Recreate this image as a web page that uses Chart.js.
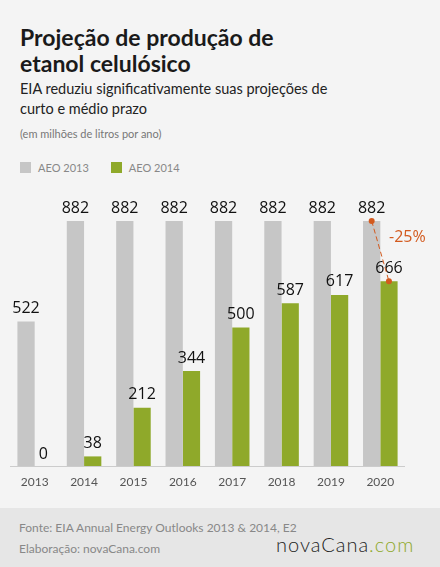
<!DOCTYPE html>
<html><head><meta charset="utf-8">
<script src="https://cdn.jsdelivr.net/npm/chart.js@4"></script>
<style>
body{margin:0;width:440px;height:567px;background:#f4f4f4;font-family:"Open Sans",Lato,sans-serif;position:relative;overflow:hidden}
#t{position:absolute;left:20px;top:24px;font-size:23px;font-weight:bold;line-height:26px;color:#1a1a1a;font-family:Lato,sans-serif}
#s{position:absolute;left:20px;top:79px;font-size:14.5px;line-height:20px;color:#222;font-family:Lato,sans-serif}
#u{position:absolute;left:20px;top:127px;font-size:11px;color:#777;font-family:Lato,sans-serif}
#lg{position:absolute;left:20px;top:161px;font-size:11px;color:#888;font-family:Lato,sans-serif}
#lg span.b{display:inline-block;width:11px;height:11px;vertical-align:-1px;margin-right:7px}
#f{position:absolute;left:0;top:508px;width:440px;height:59px;background:#e6e6e6;font-family:Lato,sans-serif;color:#888;font-size:12px}
canvas{position:absolute;left:0;top:0}
</style></head><body>
<div id="t">Projeção de produção de<br>etanol celulósico</div>
<div id="s">EIA reduziu significativamente suas projeções de<br>curto e médio prazo</div>
<div id="u">(em milhões de litros por ano)</div>
<div id="lg"><span class="b" style="background:#c6c6c6"></span>AEO 2013<span style="display:inline-block;width:22px"></span><span class="b" style="background:#8fa92a"></span>AEO 2014</div>
<div id="f"><div style="position:absolute;left:19px;top:12px">Fonte: EIA Annual Energy Outlooks 2013 &amp; 2014, E2</div>
<div style="position:absolute;left:19px;top:33px">Elaboração: novaCana.com</div>
<div style="position:absolute;left:276px;top:24px;font-size:20px;color:#222;letter-spacing:1px;font-weight:300">novaCana<span style="color:#8fa92a">.com</span></div></div>
<div style="position:absolute;left:0;top:0;width:440px;height:510px"><canvas id="c"></canvas></div>
<script>
const categories=["2013","2014","2015","2016","2017","2018","2019","2020"];
const aeo2013=[522,882,882,882,882,882,882,882];
const aeo2014=[0,38,212,344,500,587,617,666];
const changeLabel="-25%";
const plug={id:'lab',afterDatasetsDraw(ch){
 const ctx=ch.ctx,x=ch.scales.x;
 ctx.save();ctx.font='16px "Open Sans",Lato,sans-serif';ctx.fillStyle='#111';ctx.textAlign='center';ctx.textBaseline='bottom';
 ch.data.datasets.forEach((d,i)=>{ch.getDatasetMeta(i).data.forEach((b,j)=>{ctx.fillText(String(d.data[j]),b.x,b.y-5);});});
 ctx.font='12px Lato,sans-serif';ctx.fillStyle='#555';ctx.textBaseline='top';
 categories.forEach((c,j)=>ctx.fillText(c,x.getPixelForValue(j),476));
 ctx.strokeStyle='#ccc';ctx.lineWidth=1;ctx.beginPath();ctx.moveTo(ch.chartArea.left,466.5);ctx.lineTo(ch.chartArea.right,466.5);ctx.stroke();
 const g=ch.getDatasetMeta(0).data[7],v=ch.getDatasetMeta(1).data[7];
 const p1={x:g.x,y:g.y},p2={x:v.x,y:v.y};
 ctx.strokeStyle='#d35a1e';ctx.fillStyle='#d35a1e';ctx.setLineDash([5,3]);ctx.lineWidth=1;
 ctx.beginPath();ctx.moveTo(p1.x,p1.y);ctx.lineTo(p2.x,p2.y);ctx.stroke();ctx.setLineDash([]);
 [p1,p2].forEach(p=>{ctx.beginPath();ctx.arc(p.x,p.y,3,0,7);ctx.fill();});
 ctx.font='16px "Open Sans",Lato,sans-serif';ctx.textAlign='left';ctx.textBaseline='middle';
 ctx.fillText(changeLabel,389,237);
 ctx.restore();}};
new Chart(document.getElementById('c'),{type:'bar',
 data:{labels:categories,datasets:[
  {label:'AEO 2013',data:aeo2013,backgroundColor:'#c6c6c6'},
  {label:'AEO 2014',data:aeo2014,backgroundColor:'#8fa92a'}]},
 options:{responsive:true,maintainAspectRatio:false,animation:false,
  layout:{padding:{left:10,right:35,top:221,bottom:43}},
  datasets:{bar:{categoryPercentage:0.7,barPercentage:1.0}},
  plugins:{legend:{display:false},tooltip:{enabled:false}},
  scales:{x:{display:false},y:{display:false,min:0,max:882}}},
 plugins:[plug]});
</script></body></html>
